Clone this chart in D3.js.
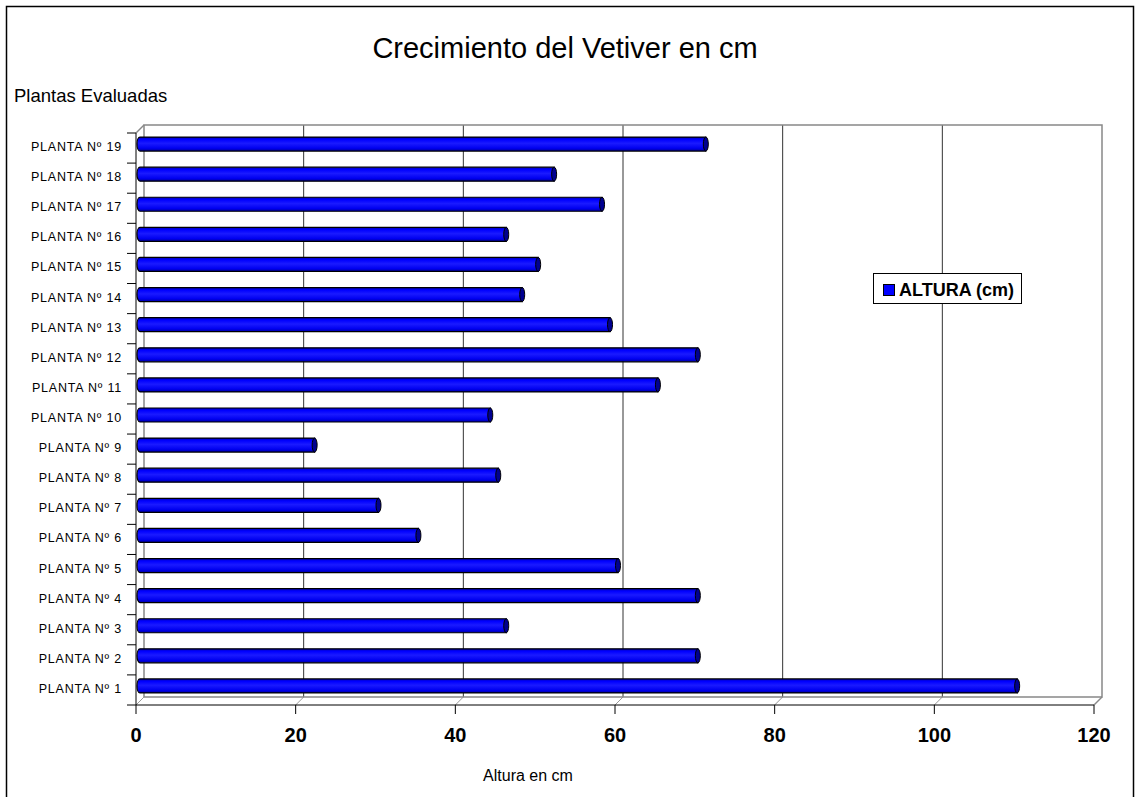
<!DOCTYPE html>
<html>
<head>
<meta charset="utf-8">
<script src="https://cdn.jsdelivr.net/npm/d3@7"></script>
<style>
  html, body { margin: 0; padding: 0; background: #fff; }
  svg { display: block; font-family: "Liberation Sans", Arial, sans-serif; }
</style>
</head>
<body>
<svg id="chart" width="1135" height="797"></svg>
<script>
// Vetiver growth per evaluated plant (cm)
const categories = [
  "PLANTA Nº 1", "PLANTA Nº 2", "PLANTA Nº 3", "PLANTA Nº 4", "PLANTA Nº 5",
  "PLANTA Nº 6", "PLANTA Nº 7", "PLANTA Nº 8", "PLANTA Nº 9", "PLANTA Nº 10",
  "PLANTA Nº 11", "PLANTA Nº 12", "PLANTA Nº 13", "PLANTA Nº 14", "PLANTA Nº 15",
  "PLANTA Nº 16", "PLANTA Nº 17", "PLANTA Nº 18", "PLANTA Nº 19"
];
const alturas = [110, 70, 46, 70, 60, 35, 30, 45, 22, 44, 65, 70, 59, 48, 50, 46, 58, 52, 71];
const xTicks = [0, 20, 40, 60, 80, 100, 120];
const seriesName = "ALTURA (cm)";

const svg = d3.select("#chart");

// outer chart frame
svg.append("rect")
  .attr("x", 6.5).attr("y", 6.5)
  .attr("width", 1127).attr("height", 800)
  .attr("fill", "#fff").attr("stroke", "#000").attr("stroke-width", 1.5);

// pseudo-3D plot geometry: front plane plus a receding back wall
const depth = 8;
const x = d3.scaleLinear().domain([0, 120]).range([136, 1094]);
const y = d3.scaleBand().domain(categories).range([705, 133]).padding(0);
const front = { left: 136, bottom: 705, top: 133 };

const defs = svg.append("defs");
const grad = defs.append("linearGradient")
  .attr("id", "barGrad").attr("x1", 0).attr("y1", 0).attr("x2", 0).attr("y2", 1);
[[0, "#0000b4"], [0.18, "#0000ff"], [0.45, "#1a1aff"], [0.8, "#0000f0"], [1, "#0000a0"]]
  .forEach(([o, c]) => grad.append("stop").attr("offset", o).attr("stop-color", c));

// back wall
const wallTop = front.top - depth;
const wallBottom = front.bottom - depth;
const wallLeft = front.left + depth;
const wallRight = x(120) + depth;

// vertical gridlines on the back wall
svg.append("g").selectAll("line")
  .data(xTicks.filter(t => t > 0 && t < 120))
  .join("line")
  .attr("x1", d => x(d) + depth).attr("x2", d => x(d) + depth)
  .attr("y1", wallTop).attr("y2", wallBottom)
  .attr("stroke", "#333").attr("stroke-width", 1);

// floor gridline diagonals
svg.append("g").selectAll("line")
  .data(xTicks.filter(t => t < 120))
  .join("line")
  .attr("x1", d => x(d)).attr("y1", front.bottom)
  .attr("x2", d => x(d) + depth).attr("y2", wallBottom)
  .attr("stroke", "#999").attr("stroke-width", 1);

const wall = svg.append("g").attr("fill", "none").attr("stroke", "#888").attr("stroke-width", 1.5);
wall.append("path")
  .attr("d", `M${wallLeft},${wallBottom} L${wallLeft},${wallTop} L${wallRight},${wallTop} L${wallRight},${wallBottom} L${wallLeft},${wallBottom}`);
wall.append("line")
  .attr("x1", front.left).attr("y1", front.top)
  .attr("x2", wallLeft).attr("y2", wallTop);
wall.append("line")
  .attr("x1", x(120)).attr("y1", front.bottom)
  .attr("x2", wallRight).attr("y2", wallBottom);

// front axes
const axisG = svg.append("g").attr("stroke", "#000").attr("stroke-width", 1);
axisG.append("line")
  .attr("x1", front.left).attr("x2", front.left)
  .attr("y1", front.top).attr("y2", front.bottom);
axisG.append("line")
  .attr("x1", front.left).attr("x2", x(120))
  .attr("y1", front.bottom).attr("y2", front.bottom);

// category tick marks at band boundaries
const bounds = d3.range(categories.length + 1).map(i => 705 - i * y.step());
axisG.selectAll(".ytick").data(bounds).join("line")
  .attr("x1", front.left - 9).attr("x2", front.left)
  .attr("y1", d => d).attr("y2", d => d);

// value tick marks
axisG.selectAll(".xtick").data(xTicks).join("line")
  .attr("x1", d => x(d)).attr("x2", d => x(d))
  .attr("y1", front.bottom).attr("y2", front.bottom + 9);

// value tick labels
svg.append("g").selectAll("text").data(xTicks).join("text")
  .attr("x", d => x(d)).attr("y", 742)
  .attr("text-anchor", "middle")
  .attr("font-size", 20).attr("font-weight", "bold").attr("fill", "#000")
  .text(d => d);

// category labels
svg.append("g").selectAll("text").data(categories).join("text")
  .attr("x", 122).attr("y", d => y(d) + y.bandwidth() / 2 + 3)
  .attr("text-anchor", "end")
  .attr("font-size", 12.5).attr("letter-spacing", 0.8)
  .attr("fill", "#000")
  .text(d => d);

// cylinder bars
const barH = 14;
const r = 3;
const bars = svg.append("g");
const barData = categories.map((c, i) => ({ c, v: alturas[i] }));
bars.selectAll("path.body").data(barData).join("path")
  .attr("class", "body")
  .attr("d", d => {
    const cy = y(d.c) + y.bandwidth() / 2 - 4;
    const x0 = front.left + 1;
    const xe = x(d.v) + 3;
    const t = cy - barH / 2, b = cy + barH / 2;
    return `M${x0 + r},${t} L${xe},${t} L${xe},${b} L${x0 + r},${b} A${r},${barH / 2} 0 0 1 ${x0 + r},${t} Z`;
  })
  .attr("fill", "url(#barGrad)").attr("stroke", "#000").attr("stroke-width", 1.2);
bars.selectAll("ellipse").data(barData).join("ellipse")
  .attr("cx", d => x(d.v) + 3)
  .attr("cy", d => y(d.c) + y.bandwidth() / 2 - 4)
  .attr("rx", 2.5).attr("ry", barH / 2)
  .attr("fill", "#000090").attr("stroke", "#000").attr("stroke-width", 1);

// title and axis titles
svg.append("text")
  .attr("x", 565).attr("y", 58)
  .attr("text-anchor", "middle").attr("font-size", 29).attr("fill", "#000")
  .text("Crecimiento del Vetiver en cm");
svg.append("text")
  .attr("x", 14).attr("y", 102)
  .attr("font-size", 18.5).attr("fill", "#000")
  .text("Plantas Evaluadas");
svg.append("text")
  .attr("x", 528).attr("y", 781)
  .attr("text-anchor", "middle").attr("font-size", 16).attr("fill", "#000")
  .text("Altura en cm");

// legend
const lg = svg.append("g");
lg.append("rect")
  .attr("x", 873.5).attr("y", 273.5).attr("width", 148).attr("height", 30)
  .attr("fill", "#fff").attr("stroke", "#000").attr("stroke-width", 1);
lg.append("rect")
  .attr("x", 883.5).attr("y", 284.5).attr("width", 11).attr("height", 11)
  .attr("fill", "#0000ff").attr("stroke", "#000").attr("stroke-width", 1);
lg.append("text")
  .attr("x", 899).attr("y", 296)
  .attr("font-size", 18).attr("font-weight", "bold").attr("fill", "#000")
  .text(seriesName);
</script>
</body>
</html>
